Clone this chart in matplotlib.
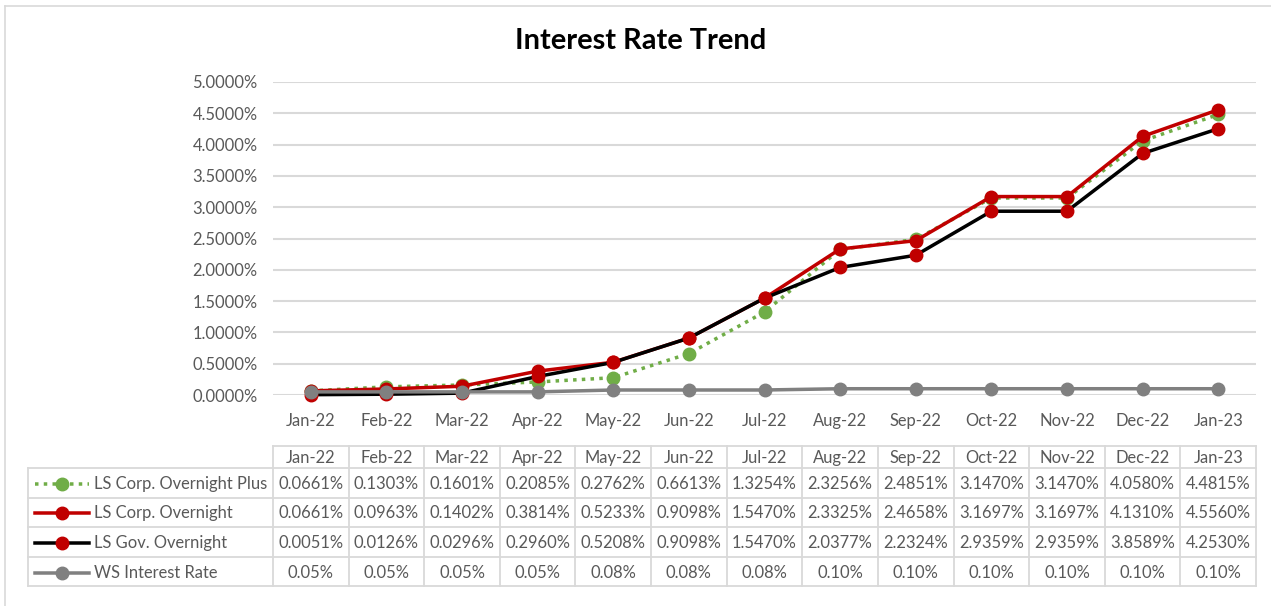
import matplotlib
matplotlib.use("Agg")
import matplotlib.pyplot as plt
from matplotlib.lines import Line2D

months = ["Jan-22", "Feb-22", "Mar-22", "Apr-22", "May-22", "Jun-22", "Jul-22",
          "Aug-22", "Sep-22", "Oct-22", "Nov-22", "Dec-22", "Jan-23"]
corp_plus = [0.0661, 0.1303, 0.1601, 0.2085, 0.2762, 0.6613, 1.3254,
             2.3256, 2.4851, 3.1470, 3.1470, 4.0580, 4.4815]
corp_overnight = [0.0661, 0.0963, 0.1402, 0.3814, 0.5233, 0.9098, 1.5470,
                  2.3325, 2.4658, 3.1697, 3.1697, 4.1310, 4.5560]
gov_overnight = [0.0051, 0.0126, 0.0296, 0.2960, 0.5208, 0.9098, 1.5470,
                 2.0377, 2.2324, 2.9359, 2.9359, 3.8589, 4.2530]
ws_rate = [0.05, 0.05, 0.05, 0.05, 0.08, 0.08, 0.08,
           0.10, 0.10, 0.10, 0.10, 0.10, 0.10]
series_names = ["LS Corp. Overnight Plus", "LS Corp. Overnight",
                "LS Gov. Overnight", "WS Interest Rate"]
y_ticks = [0.0, 0.5, 1.0, 1.5, 2.0, 2.5, 3.0, 3.5, 4.0, 4.5, 5.0]

W, H = 1271, 606
fig = plt.figure(figsize=(W / 100, H / 100), dpi=100)
plt.rcParams['font.family'] = ['Lato', 'DejaVu Sans']

def px(v):
    return v * 0.72

TXT = "#595959"
GRID = "#D9D9D9"

# outer border (top and left visible)
fig.add_artist(Line2D([5 / W, 5 / W], [0, 1 - 6 / H], transform=fig.transFigure,
                      color="#D9D9D9", lw=1.2))
fig.add_artist(Line2D([5 / W, 1], [1 - 6 / H, 1 - 6 / H], transform=fig.transFigure,
                      color="#D9D9D9", lw=1.2))

x0, x1 = 273, 1256
ytop, ybot = 82, 395
ax = fig.add_axes([x0 / W, 1 - ybot / H, (x1 - x0) / W, (ybot - ytop) / H])
n = len(months)
xs = list(range(n))
ax.set_xlim(-0.5, n - 0.5)
ax.set_ylim(0, 5)
for s in ax.spines.values():
    s.set_visible(False)
ax.set_yticks(y_ticks)
ax.set_yticklabels([f"{v:.4f}%" for v in y_ticks])
ax.set_xticks(xs)
ax.set_xticklabels(months)
FS = px(16.5)
ax.tick_params(axis="both", length=0, colors=TXT, labelsize=FS)
ax.tick_params(axis="y", pad=11)
ax.tick_params(axis="x", pad=13)
ax.yaxis.grid(True, color=GRID, lw=1.5)
ax.set_axisbelow(True)

lw = px(3.5)
ms = px(12.5)
styles = [
    dict(color="#70AD47", ls=(0, (1, 1.5)), lw=lw, marker="o", ms=ms, mfc="#70AD47", mec="#70AD47"),
    dict(color="#C00000", ls="-", lw=lw, marker="o", ms=ms, mfc="#C00000", mec="#C00000"),
    dict(color="#000000", ls="-", lw=lw, marker="o", ms=ms, mfc="#C00000", mec="#C00000"),
    dict(color="#808080", ls="-", lw=lw, marker="o", ms=ms, mfc="#808080", mec="#808080"),
]
all_series = [corp_plus, corp_overnight, gov_overnight, ws_rate]
zs = [3, 4, 5, 6]
for data, st, z in zip(all_series, styles, zs):
    ax.plot(xs, data, clip_on=False, zorder=z, **st)

fig.text(641 / W, 1 - 41 / H, "Interest Rate Trend", ha="center", va="center",
         fontsize=px(29), fontweight="bold", color="#000000")

# data table
tx0 = 28
ttop, tbot = 446, 586
tax = fig.add_axes([tx0 / W, 1 - tbot / H, (x1 - tx0) / W, (tbot - ttop) / H])
colw = (x1 - x0) / n
left_cols = (x0 - tx0) / colw
tax.set_xlim(-0.5 - left_cols, n - 0.5)
row_edges_px = [446, 468, 497.5, 527, 557, 586]
tax.set_ylim(tbot, ttop)
tax.axis("off")
BC = "#D9D9D9"
blw = 1.3
# horizontal lines
for i, yv in enumerate(row_edges_px):
    xl = -0.5 if i == 0 else -0.5 - left_cols
    tax.plot([xl, n - 0.5], [yv, yv], color=BC, lw=blw, clip_on=False)
# vertical lines
for k in range(n + 1):
    tax.plot([k - 0.5, k - 0.5], [row_edges_px[0], row_edges_px[-1]], color=BC, lw=blw, clip_on=False)
tax.plot([-0.5 - left_cols] * 2, [row_edges_px[1], row_edges_px[-1]], color=BC, lw=blw, clip_on=False)

hy = (row_edges_px[0] + row_edges_px[1]) / 2 + 1
for k, m in enumerate(months):
    tax.text(k, hy, m, ha="center", va="center", fontsize=FS, color=TXT)

fmts = [lambda v: f"{v:.4f}%"] * 3 + [lambda v: f"{v:.2f}%"]
for r, (data, name, st, fm) in enumerate(zip(all_series, series_names, styles, fmts)):
    yc = (row_edges_px[r + 1] + row_edges_px[r + 2]) / 2 + 1
    for k, v in enumerate(data):
        tax.text(k, yc, fm(v), ha="center", va="center", fontsize=FS, color=TXT)
    lx0 = -0.5 - left_cols + 7 / colw
    lx1 = -0.5 - left_cols + 61 / colw
    tax.plot([lx0, lx1], [yc, yc], color=st["color"], ls=st["ls"], lw=lw, clip_on=False)
    tax.plot([(lx0 + lx1) / 2], [yc], marker="o", ms=ms, mfc=st["mfc"], mec=st["mec"],
             ls="none", clip_on=False)
    tax.text(-0.5 - left_cols + 66 / colw, yc, name, ha="left", va="center",
             fontsize=FS, color=TXT)

fig.savefig("out.png", dpi=100, facecolor="white")
